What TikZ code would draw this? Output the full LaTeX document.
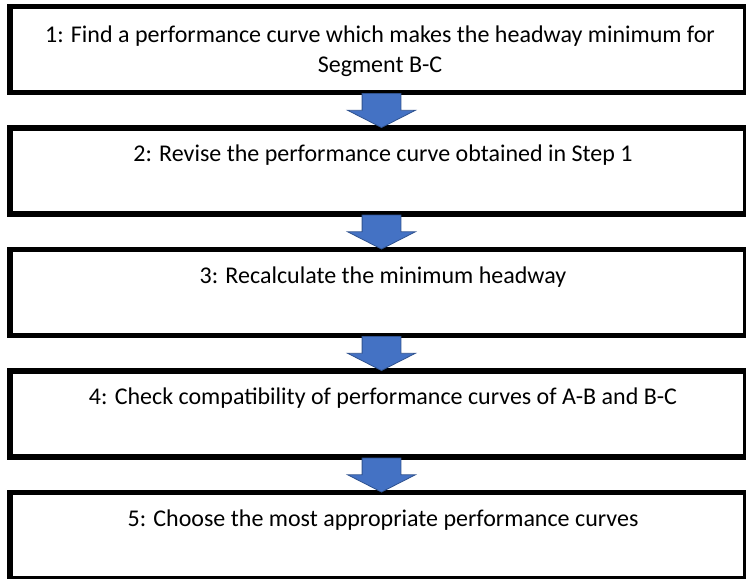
\documentclass[tikz,border=0pt]{standalone}
\usepackage{fontspec}
\setmainfont{Carlito}
\usetikzlibrary{positioning,shapes.arrows}
\definecolor{stepblue}{HTML}{4472C4}
\definecolor{stepedge}{HTML}{2F528F}

\begin{document}
\begin{tikzpicture}[x=1pt, y=-1pt,
    stepbox/.style={draw, line width=5.5pt, minimum width=736pt, minimum height=86pt, outer sep=0pt, inner sep=0pt},
    steptext/.style={anchor=base, align=center, inner sep=0pt, font=\fontsize{24}{29}\selectfont},
    flowarrow/.style={single arrow, shape border rotate=270, fill=stepblue, draw=stepedge, line width=0.8pt,
        minimum width=67pt, minimum height=34pt, single arrow head extend=14.5pt, single arrow tip angle=126,
        inner xsep=19pt, inner ysep=0pt, anchor=tip}]
    \useasboundingbox (0,0) rectangle (746,578);
    \node[stepbox] (step1) at (378,49.5) {};
    \node[stepbox, below=35.5pt of step1] (step2) {};
    \node[stepbox, below=35.5pt of step2] (step3) {};
    \node[stepbox, below=35.5pt of step3] (step4) {};
    \node[stepbox, below=35.5pt of step4] (step5) {};
    \node[steptext] (text1) at ([xshift=2pt, yshift=-65.5pt]step1.north) {1: Find a performance curve which makes the headway minimum for\\ Segment B-C};
    \node[steptext] (text2) at ([xshift=5pt, yshift=-33.5pt]step2.north) {2: Revise the performance curve obtained in Step 1};
    \node[steptext] (text3) at ([xshift=5pt, yshift=-33.5pt]step3.north) {3: Recalculate the minimum headway};
    \node[steptext] (text4) at ([xshift=5pt, yshift=-33.5pt]step4.north) {4: Check compatibility of performance curves of A-B and B-C};
    \node[steptext] (text5) at ([xshift=5pt, yshift=-33.5pt]step5.north) {5: Choose the most appropriate performance curves};
    \node[flowarrow] (arrow12) at ([xshift=3.5pt]step2.north) {};
    \node[flowarrow] (arrow23) at ([xshift=3.5pt]step3.north) {};
    \node[flowarrow] (arrow34) at ([xshift=3.5pt]step4.north) {};
    \node[flowarrow] (arrow45) at ([xshift=3.5pt]step5.north) {};
\end{tikzpicture}
\end{document}
